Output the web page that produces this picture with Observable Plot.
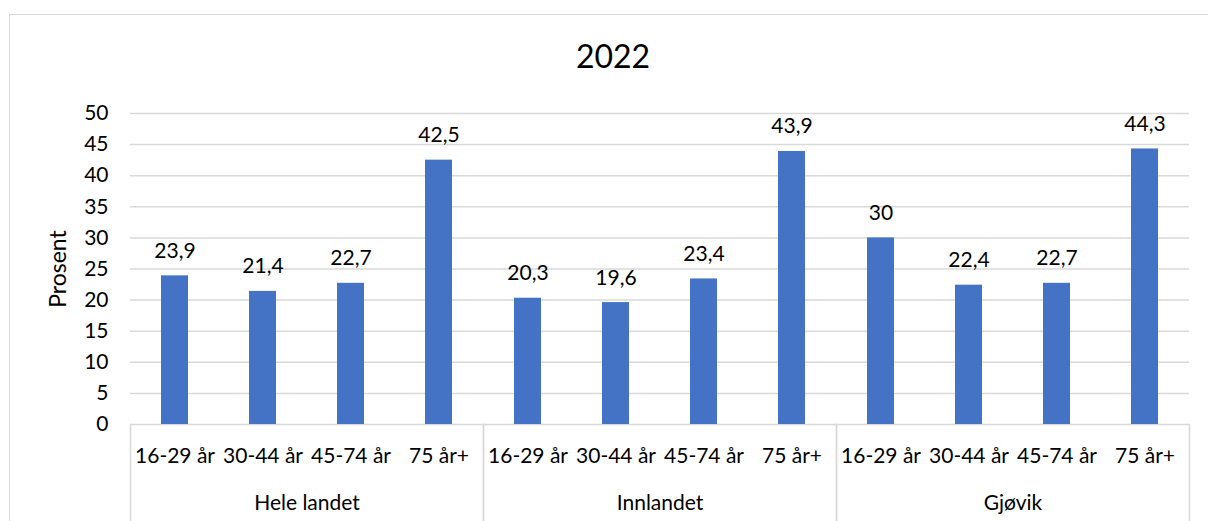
<!DOCTYPE html>
<html>
<head>
<meta charset="utf-8">
<script src="https://cdn.jsdelivr.net/npm/d3@7"></script>
<script src="https://cdn.jsdelivr.net/npm/@observablehq/plot@0.6"></script>
<style>
  html, body { margin: 0; padding: 0; background: #fff; overflow: hidden; }
  body { width: 1208px; height: 521px; position: relative; font-family: Lato, "Noto Sans", sans-serif; }
  #frame {
    position: absolute; left: 9px; top: 14px; width: 1300px; height: 600px;
    border-left: 1.5px solid #d9d9d9; border-top: 1.5px solid #d9d9d9;
    box-sizing: border-box; z-index: 0;
  }
  #chart { position: absolute; left: 0; top: 0; width: 1208px; z-index: 1; }
  #subtitle {
    height: 98px; box-sizing: border-box; padding-left: 18px; padding-top: 36px;
    text-align: center; font-size: 32px; line-height: 40px; color: #000;
  }
  #chart svg { display: block; }
</style>
</head>
<body>
<div id="frame"></div>
<div id="chart">
  <div id="subtitle">2022</div>
</div>
<script>
// Regions and age groups
const groups = ["Hele landet", "Innlandet", "Gjøvik"];
const ages = ["16-29 år", "30-44 år", "45-74 år", "75 år+"];

// Share in percent, per region, in the same order as the age groups
const heleLandet = [23.9, 21.4, 22.7, 42.5];
const innlandet = [20.3, 19.6, 23.4, 43.9];
const gjovik = [30, 22.4, 22.7, 44.3];

// Y-axis ticks
const yTicks = [0, 5, 10, 15, 20, 25, 30, 35, 40, 45, 50];

const seriesByGroup = [heleLandet, innlandet, gjovik];
const rows = groups.flatMap((group, gi) =>
  ages.map((age, ai) => ({group, age, value: seriesByGroup[gi][ai]}))
);

// Norwegian decimal comma
const fmt = v => String(v).replace(".", ",");

const grey = "#d9d9d9";

const chart = Plot.plot({
  width: 1208,
  height: 423,
  marginTop: 15,
  marginBottom: 97,
  marginLeft: 129,
  marginRight: 19,
  style: {fontFamily: "Lato, 'Noto Sans', sans-serif", fontSize: "21px", color: "#000", background: "none", overflow: "visible"},
  fx: {domain: groups, padding: 0, label: null, axis: "bottom", tickSize: 0, tickPadding: 71},
  x: {domain: ages, paddingInner: 0.69, paddingOuter: 0.345, label: null, tickSize: 0, tickPadding: 24},
  y: {domain: [0, 50]},
  marks: [
    Plot.gridY(yTicks, {stroke: grey, strokeOpacity: 1, strokeWidth: 1.5}),
    // y tick labels
    Plot.axisY(yTicks, {tickSize: 0, tickPadding: 22, label: null, fontSize: 21}),
    // y axis title, a touch larger than the tick labels
    Plot.axisY([], {
      label: "Prosent", labelAnchor: "center", labelArrow: "none",
      labelOffset: 81, fontSize: 23, tickSize: 0
    }),
    // separators between the regions, below the category axis
    Plot.frame({anchor: "left", stroke: grey, strokeOpacity: 1, strokeWidth: 1.5, insetTop: 311, insetBottom: -97}),
    Plot.frame({anchor: "right", stroke: grey, strokeOpacity: 1, strokeWidth: 1.5, insetTop: 311, insetBottom: -97}),
    Plot.barY(rows, {fx: "group", x: "age", y: "value", fill: "#4472C4"}),
    Plot.text(rows, {
      fx: "group", x: "age", y: "value", text: d => fmt(d.value),
      lineAnchor: "bottom", dy: -18, fill: "#000", fontSize: 21
    })
  ]
});

document.getElementById("chart").appendChild(chart);
</script>
</body>
</html>
